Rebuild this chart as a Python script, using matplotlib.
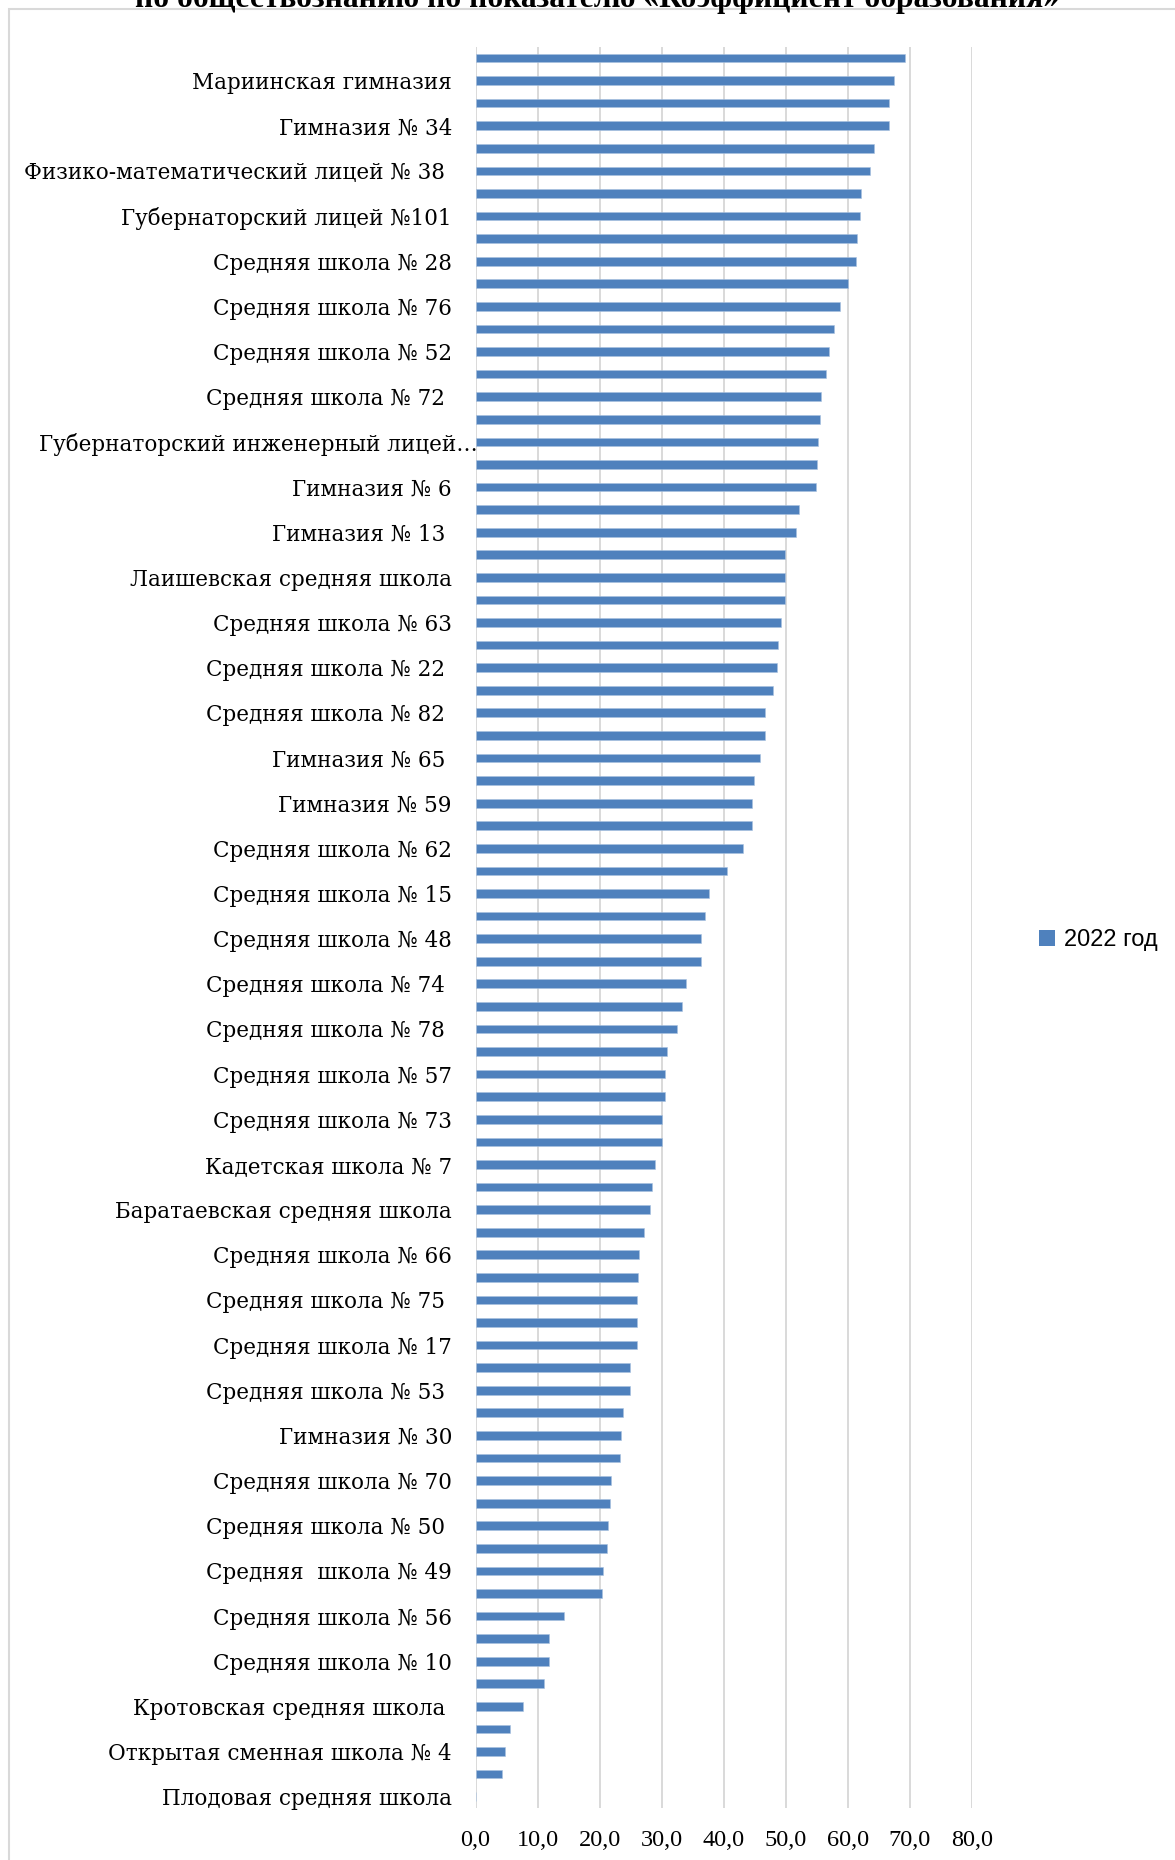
import matplotlib
matplotlib.use("Agg")
import matplotlib.pyplot as plt
import matplotlib.transforms as mtransforms
from matplotlib.patches import Rectangle, Patch

# ---------------- data (top to bottom) ----------------
categories = [
    "", "Мариинская гимназия", "", "Гимназия № 34", "", "Физико-математический лицей № 38 ",
    "", "Губернаторский лицей №101", "", "Средняя школа № 28", "", "Средняя школа № 76",
    "", "Средняя школа № 52", "", "Средняя школа № 72 ", "", "Губернаторский инженерный лицей…",
    "", "Гимназия № 6", "", "Гимназия № 13 ", "", "Лаишевская средняя школа",
    "", "Средняя школа № 63", "", "Средняя школа № 22 ", "", "Средняя школа № 82 ",
    "", "Гимназия № 65 ", "", "Гимназия № 59", "", "Средняя школа № 62",
    "", "Средняя школа № 15", "", "Средняя школа № 48", "", "Средняя школа № 74 ",
    "", "Средняя школа № 78 ", "", "Средняя школа № 57", "", "Средняя школа № 73",
    "", "Кадетская школа № 7", "", "Баратаевская средняя школа", "", "Средняя школа № 66",
    "", "Средняя школа № 75 ", "", "Средняя школа № 17", "", "Средняя школа № 53 ",
    "", "Гимназия № 30", "", "Средняя школа № 70", "", "Средняя школа № 50 ",
    "", "Средняя  школа № 49", "", "Средняя школа № 56", "", "Средняя школа № 10",
    "", "Кротовская средняя школа ", "", "Открытая сменная школа № 4", "", "Плодовая средняя школа",
]
values = [
    69.2, 67.4, 66.6, 66.6, 64.2, 63.5, 62.1, 61.9, 61.5, 61.3,
    60.0, 58.8, 57.7, 56.9, 56.5, 55.6, 55.5, 55.2, 55.1, 54.9,
    52.2, 51.6, 49.9, 49.9, 49.9, 49.3, 48.8, 48.5, 48.0, 46.7,
    46.7, 45.8, 44.9, 44.5, 44.5, 43.1, 40.5, 37.6, 37.0, 36.3,
    36.3, 33.9, 33.3, 32.5, 30.8, 30.5, 30.5, 30.0, 30.0, 28.9,
    28.5, 28.1, 27.1, 26.3, 26.2, 26.1, 26.1, 26.0, 24.9, 24.9,
    23.8, 23.5, 23.3, 21.9, 21.6, 21.4, 21.2, 20.6, 20.4, 14.3,
    11.9, 11.9, 11.1, 7.7, 5.5, 4.8, 4.3, 0.0,
]
series_name = "2022 год"
x_ticks = [0, 10, 20, 30, 40, 50, 60, 70, 80]
x_tick_labels = ["0,0", "10,0", "20,0", "30,0", "40,0", "50,0", "60,0", "70,0", "80,0"]
title = "по обществознанию по показателю «Коэффициент образования»"

# ---------------- figure ----------------
W, H = 1175, 1860
fig = plt.figure(figsize=(W / 100, H / 100), dpi=100)
fig.patch.set_facecolor("white")

# chart frame (clipped at right / bottom like the reference)
fig.patches.append(Rectangle((9 / W, -0.05), 1.2, 1 - 9 / H + 0.05, transform=fig.transFigure,
                             fill=False, edgecolor="#d9d9d9", linewidth=1.5))

# title (cut off at the top, as in the reference)
fig.text(597 / W, 1 - 6.5 / H, title, ha="center", va="baseline",
         fontsize=22.7, fontweight="bold", family="Liberation Serif", color="black")

left, right = 475.5 / W, 972 / W
top, bottom = 1 - 46.7 / H, 1 - 1808 / H
ax = fig.add_axes([left, bottom, right - left, top - bottom])

n = len(values)
pos = list(range(n))
ax.barh(pos, values, height=0.385, color="#4f81bd", edgecolor="#a9c1df", linewidth=0.4,
        zorder=3, label=series_name)
ax.set_ylim(n - 0.5, -0.5)
ax.set_xlim(0, 80)

ax.set_yticks(pos)
ax.set_yticklabels(categories, family="DejaVu Serif", fontsize=15.5)
ax.tick_params(axis="y", length=0, pad=17)
ax.set_xticks(x_ticks)
ax.set_xticklabels(x_tick_labels, family="Liberation Serif", fontsize=17.5)
ax.tick_params(axis="x", length=0, pad=16)

ax.grid(axis="x", color="#d9d9d9", linewidth=1.4, zorder=0)
ax.grid(axis="y", visible=False)
for s in ax.spines.values():
    s.set_visible(False)

# the truncated label runs slightly past the axis, like the reference
for lab in ax.get_yticklabels():
    if lab.get_text().endswith("…"):
        lab.set_transform(lab.get_transform() + mtransforms.ScaledTranslation(26 / 100, 0, fig.dpi_scale_trans))

fig.legend(handles=[Patch(facecolor="#4f81bd", edgecolor="none", label=series_name)],
           loc="center left", bbox_to_anchor=(1018 / W, 1 - 940 / H), frameon=False,
           handlelength=0.65, handleheight=0.65, handletextpad=0.4,
           prop={"family": "Liberation Sans", "size": 17})

fig.savefig("out.png", dpi=100, facecolor="white")
